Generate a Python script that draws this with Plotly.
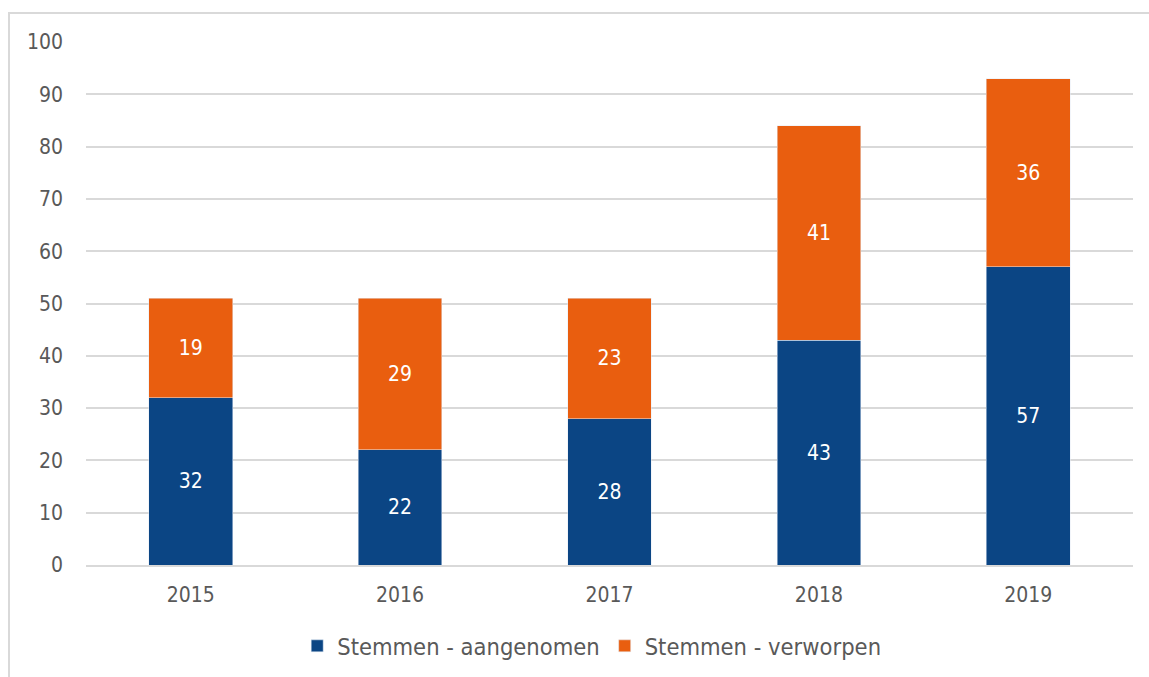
import plotly.graph_objects as go

years = ["2015", "2016", "2017", "2018", "2019"]
aangenomen = [32, 22, 28, 43, 57]
verworpen = [19, 29, 23, 41, 36]
y_ticks = [0, 10, 20, 30, 40, 50, 60, 70, 80, 90, 100]

FONT = "DejaVu Sans Condensed, DejaVu Sans, sans-serif"

fig = go.Figure()
fig.add_trace(go.Bar(
    x=years, y=aangenomen, name="Stemmen - aangenomen",
    marker=dict(color="#0B4584"),
    text=aangenomen, textposition="inside", insidetextanchor="middle",
    textfont=dict(color="white", size=21, family=FONT),
))
fig.add_trace(go.Bar(
    x=years, y=verworpen, name="Stemmen - verworpen",
    marker=dict(color="#E95E0F"),
    text=verworpen, textposition="inside", insidetextanchor="middle",
    textfont=dict(color="white", size=21, family=FONT),
))

W, H = 1149, 677
fig.update_layout(
    width=W, height=H,
    barmode="stack", bargap=0.6,
    plot_bgcolor="white", paper_bgcolor="white",
    margin=dict(l=86, r=16, t=42, b=112, autoexpand=False),
    font=dict(family=FONT, size=21, color="#595959"),
    showlegend=True,
    legend=dict(orientation="h", x=0.483, xanchor="center", y=-0.155, yanchor="middle",
                font=dict(size=23.5, color="#595959"), traceorder="normal"),
    xaxis=dict(showgrid=False, showline=True, linecolor="#d9d9d9", linewidth=1.5,
               automargin=False,
               ticks="", ticklabelstandoff=10, tickfont=dict(size=21, color="#595959")),
    yaxis=dict(range=[0, 100], tickvals=y_ticks, showgrid=True, gridcolor="#d9d9d9",
               automargin=False,
               gridwidth=1.5, zeroline=False, ticks="", ticklabelstandoff=22,
               tickfont=dict(size=21, color="#595959")),
    shapes=[dict(type="rect", xref="paper", yref="paper",
                 x0=-77/1047, x1=1.05, y0=-0.3, y1=(565-13)/523,
                 line=dict(color="#d9d9d9", width=2), fillcolor="rgba(0,0,0,0)", layer="below")],
)
fig.write_html("out.html", post_script="document.body.style.margin='0';",
               config={"displayModeBar": False})
